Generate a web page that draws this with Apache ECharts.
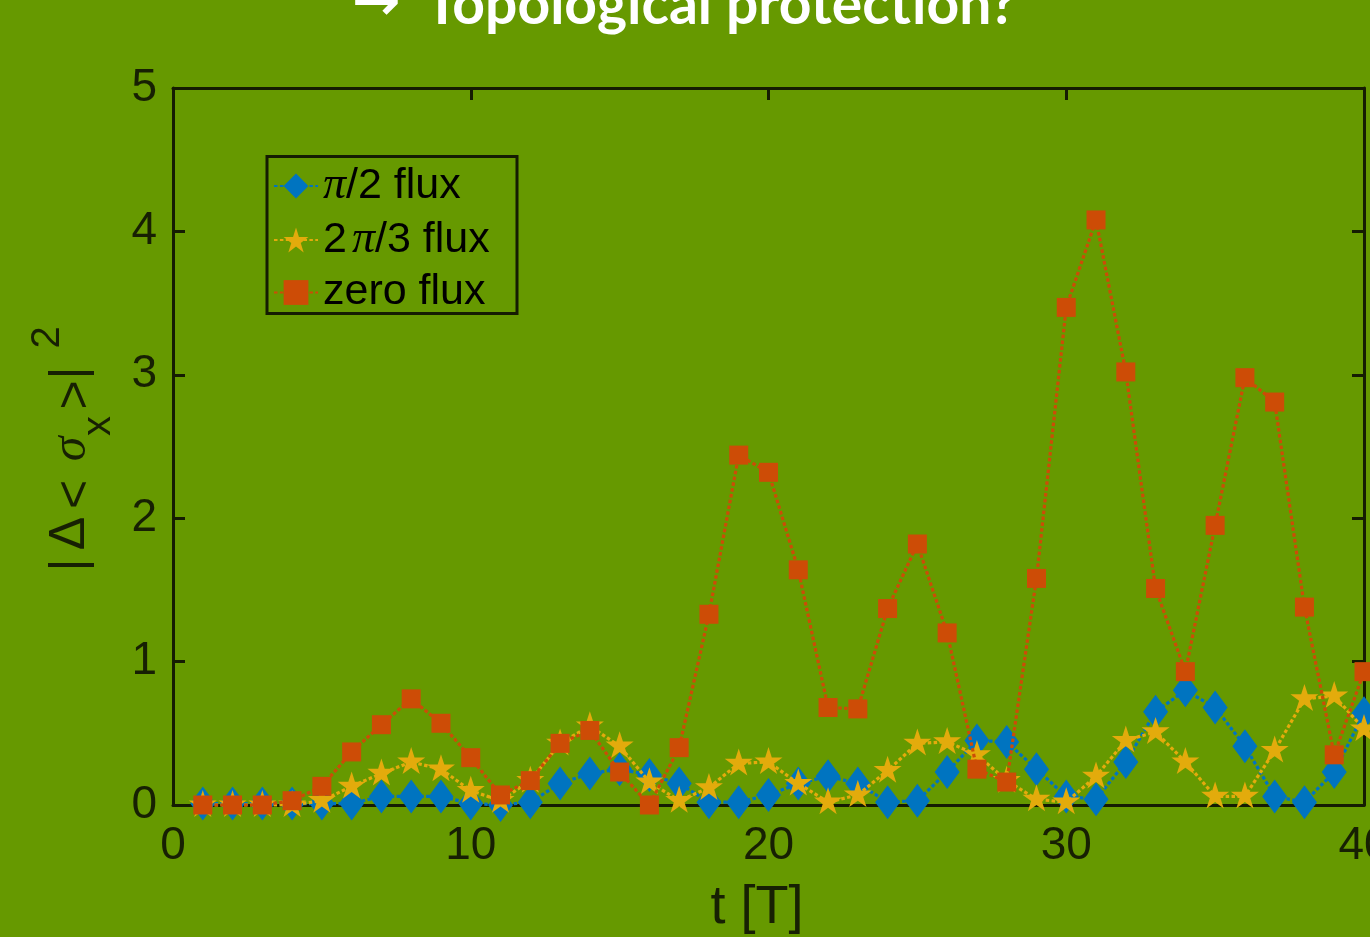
<!DOCTYPE html>
<html>
<head>
<meta charset="utf-8">
<script src="https://cdn.jsdelivr.net/npm/echarts@6/dist/echarts.min.js"></script>
<style>
  html, body { margin: 0; padding: 0; background: #669900; }
  #chart { width: 1370px; height: 937px; }
</style>
</head>
<body>
<div id="chart"></div>
<script>
// ---- data ----
const tValues = [1,2,3,4,5,6,7,8,9,10,11,12,13,14,15,16,17,18,19,20,
                 21,22,23,24,25,26,27,28,29,30,31,32,33,34,35,36,37,38,39,40];
const seriesNames = ['π/2 flux', '2π/3 flux', 'zero flux'];
const fluxPi2 = [0.01,0.01,0.01,0.01,0.01,0.01,0.06,0.06,0.06,0.01,
                 0.00,0.02,0.15,0.22,0.25,0.21,0.15,0.02,0.02,0.07,
                 0.15,0.20,0.15,0.02,0.03,0.23,0.45,0.44,0.25,0.06,
                 0.04,0.30,0.65,0.80,0.68,0.41,0.06,0.02,0.23,0.64];
const flux2Pi3 = [0.00,0.00,0.00,0.00,0.03,0.13,0.22,0.30,0.25,0.10,
                  0.03,0.17,0.43,0.55,0.41,0.16,0.03,0.12,0.29,0.30,
                  0.15,0.02,0.07,0.24,0.43,0.44,0.35,0.17,0.04,0.02,
                  0.20,0.45,0.51,0.30,0.06,0.06,0.38,0.74,0.76,0.53];
const fluxZero = [0.00,0.00,0.00,0.03,0.13,0.37,0.56,0.74,0.57,0.33,
                  0.07,0.17,0.43,0.52,0.23,0.00,0.40,1.33,2.44,2.32,
                  1.64,0.68,0.67,1.37,1.82,1.20,0.25,0.16,1.58,3.47,
                  4.08,3.02,1.51,0.93,1.95,2.98,2.81,1.38,0.35,0.93];
const xTickLabels = [0, 10, 20, 30, 40];
const yTickLabels = [0, 1, 2, 3, 4, 5];

// ---- style ----
const BG = '#669900';
const AXIS = '#151c02';
const TEXT = '#172003';
const COLORS = ['#0074c0', '#e3ab0c', '#cd4c06'];
const SANS = 'Liberation Sans';
const STAR = 'path://M50 0 L61.23 34.55 L97.55 34.55 L68.17 55.9 L79.39 90.45 L50 69.1 L20.61 90.45 L31.83 55.9 L2.45 34.55 L38.77 34.55 Z';

const xMin = xTickLabels[0], xMax = xTickLabels[xTickLabels.length - 1];
const xInt = xTickLabels[1] - xTickLabels[0];
const yMin = yTickLabels[0], yMax = yTickLabels[yTickLabels.length - 1];
const yInt = yTickLabels[1] - yTickLabels[0];

function pairs(vals) { return tValues.map((t, i) => [t, vals[i]]); }

const lineStyleFor = c => ({ color: c, width: 3.2, type: [3.5, 2.4], cap: 'butt' });

function axisCommon(showLabel, isX) {
  return {
    axisLine: { show: true, onZero: false, lineStyle: { color: AXIS, width: 3 } },
    axisTick: { show: true, inside: true, length: 12, lineStyle: { color: AXIS, width: 3 } },
    axisLabel: { show: showLabel, margin: isX ? 18 : 16, color: TEXT, fontSize: 46, fontFamily: SANS,
                 showMinLabel: true, showMaxLabel: true },
    splitLine: { show: false }
  };
}

const legendLabels = {
  'π/2 flux': '{pi|π}/2 flux',
  '2π/3 flux': '2{pi2|π}/3 flux',
  'zero flux': 'zero flux'
};

const chart = echarts.init(document.getElementById('chart'), null, { renderer: 'canvas' });

const option = {
  backgroundColor: BG,
  animation: false,
  grid: { left: 173, right: 6, top: 88, bottom: 132, containLabel: false, outerBoundsMode: 'none' },
  xAxis: [
    Object.assign({ type: 'value', min: xMin, max: xMax, interval: xInt, position: 'bottom' }, axisCommon(true, true)),
    Object.assign({ type: 'value', min: xMin, max: xMax, interval: xInt, position: 'top' }, axisCommon(false, true))
  ],
  yAxis: [
    Object.assign({ type: 'value', min: yMin, max: yMax, interval: yInt, position: 'left' }, axisCommon(true, false)),
    Object.assign({ type: 'value', min: yMin, max: yMax, interval: yInt, position: 'right' }, axisCommon(false, false))
  ],
  legend: {
    orient: 'vertical',
    left: 273, top: 157,
    padding: [6, 0, 0, 0],
    itemWidth: 44, itemHeight: 31, itemGap: 8,
    selectedMode: false,
    data: seriesNames,
    formatter: name => legendLabels[name],
    textStyle: {
      fontSize: 43, fontFamily: SANS, color: '#000', lineHeight: 43,
      rich: {
        pi: { fontSize: 46, fontFamily: 'Liberation Serif', fontStyle: 'italic', color: '#000', lineHeight: 43 },
        pi2: { fontSize: 46, fontFamily: 'Liberation Serif', fontStyle: 'italic', color: '#000', lineHeight: 43, padding: [0, 0, 0, 5] }
      }
    }
  },
  series: [
    {
      name: seriesNames[0], type: 'line', data: pairs(fluxPi2), z: 2, clip: false, silent: true,
      symbol: 'diamond', symbolSize: [25, 34],
      itemStyle: { color: COLORS[0] }, lineStyle: lineStyleFor(COLORS[0]),
      emphasis: { disabled: true }
    },
    {
      name: seriesNames[1], type: 'line', data: pairs(flux2Pi3), z: 3, clip: false, silent: true,
      symbol: STAR, symbolSize: [28, 27], symbolOffset: [0, -1.4],
      itemStyle: { color: COLORS[1] }, lineStyle: lineStyleFor(COLORS[1]),
      emphasis: { disabled: true }
    },
    {
      name: seriesNames[2], type: 'line', data: pairs(fluxZero), z: 4, clip: false, silent: true,
      symbol: 'rect', symbolSize: 19,
      itemStyle: { color: COLORS[2] }, lineStyle: lineStyleFor(COLORS[2]),
      emphasis: { disabled: true }
    }
  ],
  graphic: [
    { // legend frame
      type: 'rect', shape: { x: 267, y: 156.5, width: 250, height: 157 },
      style: { fill: 'none', stroke: AXIS, lineWidth: 3 }, silent: true, z: 5
    },
    { // title (cut at top)
      type: 'text', x: 376, y: 5, silent: true,
      style: { text: '→', fill: '#ffffff', font: 'bold 58px "DejaVu Sans"',
               align: 'center', verticalAlign: 'middle', textAlign: 'center', textVerticalAlign: 'middle' }
    },
    {
      type: 'text', x: 425, y: 6, silent: true,
      style: { text: 'Topological protection?', fill: '#ffffff', font: 'bold 57px Lato',
               align: 'left', verticalAlign: 'middle', textAlign: 'left', textVerticalAlign: 'middle' }
    },
    { // x axis title
      type: 'text', x: 757, y: 908, silent: true,
      style: { text: 't [T]', fill: TEXT, font: '54px "Liberation Sans"',
               align: 'center', verticalAlign: 'middle', textAlign: 'center', textVerticalAlign: 'middle' }
    },
    { // y axis title, rotated
      type: 'group', x: 0, y: 572, rotation: Math.PI / 2, silent: true,
      children: [
        { type: 'text', x: 7,     y: 70,   style: { text: '|', fill: TEXT, font: '50px "Liberation Sans"', align: 'center', verticalAlign: 'middle' } },
        { type: 'text', x: 38.5,  y: 70,   style: { text: 'Δ', fill: TEXT, font: '50px "Liberation Sans"', align: 'center', verticalAlign: 'middle' } },
        { type: 'text', x: 77.5,  y: 76,   style: { text: '<', fill: TEXT, font: '50px "Liberation Sans"', align: 'center', verticalAlign: 'middle' } },
        { type: 'text', x: 123,   y: 72,   style: { text: 'σ', fill: TEXT, font: 'italic 50px "Liberation Serif"', align: 'center', verticalAlign: 'middle' } },
        { type: 'text', x: 146,   y: 99,   style: { text: 'x', fill: TEXT, font: '40px "Liberation Sans"', align: 'center', verticalAlign: 'middle' } },
        { type: 'text', x: 177,   y: 76,   style: { text: '>', fill: TEXT, font: '50px "Liberation Sans"', align: 'center', verticalAlign: 'middle' } },
        { type: 'text', x: 199,   y: 70,   style: { text: '|', fill: TEXT, font: '50px "Liberation Sans"', align: 'center', verticalAlign: 'middle' } },
        { type: 'text', x: 234.5, y: 48,   style: { text: '2', fill: TEXT, font: '40px "Liberation Sans"', align: 'center', verticalAlign: 'middle' } }
      ]
    }
  ]
};

chart.setOption(option);
</script>
</body>
</html>
